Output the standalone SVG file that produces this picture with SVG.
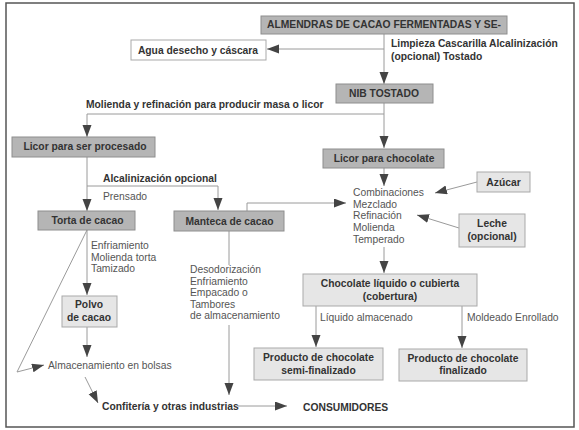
<svg xmlns="http://www.w3.org/2000/svg" width="579" height="430" viewBox="0 0 579 430">
<style>
  .dark{fill:#b5b5b5;stroke:#8e8e8e;stroke-width:1}
  .light{fill:#e6e6e6;stroke:#a9a9a9;stroke-width:1}
  .white{fill:#ffffff;stroke:#a9a9a9;stroke-width:1}
  text{font-family:"Liberation Sans",Arial,sans-serif;font-size:10.3px}
  .b{font-weight:bold;fill:#333333}
  .r{fill:#555555}
  .c{text-anchor:middle}
  .conn path{fill:none;stroke:#9a9a9a;stroke-width:1;marker-end:url(#ah)}
  .conn path.nm{marker-end:none}
</style>
<defs>
  <marker id="ah" markerUnits="userSpaceOnUse" markerWidth="13" markerHeight="10" refX="12" refY="4.5" orient="auto">
    <path d="M0,0 L12,4.5 L0,9 z" fill="#444444"/>
  </marker>
</defs>
<rect x="6" y="3" width="568" height="424" fill="#ffffff" stroke="#555555" stroke-width="1.5"/>

<g class="conn">
  <path d="M384,34 V84"/>
  <path d="M384,49 H267"/>
  <path d="M384,103 V114 H87 V137"/>
  <path d="M384,114 V148"/>
  <path d="M87,157 V211"/>
  <path d="M87,186 H218 V210"/>
  <path d="M384,168 V186"/>
  <path d="M247,211 V203 H346"/>
  <path d="M477,182 L435,193"/>
  <path d="M459,228 L417,215"/>
  <path d="M384,247 V273"/>
  <path d="M316,306 V347"/>
  <path d="M462,306 V348"/>
  <path d="M87,230 V295"/>
  <path d="M87,327 V357"/>
  <path d="M87,230 L17,372 L44,365"/>
  <path d="M85,377 L98,403"/>
  <path class="nm" d="M229,231 V265"/>
  <path d="M229,325 V395"/>
  <path d="M238,406 H287"/>
</g>

<g id="almendras">
  <rect class="dark" x="261" y="16" width="246" height="18"/>
  <text class="b c" x="384" y="28" font-size="10.1">ALMENDRAS DE CACAO FERMENTADAS Y SE-</text>
</g>
<g id="agua">
  <rect class="white" x="131" y="40" width="135" height="20"/>
  <text class="b c" x="198" y="53.5">Agua desecho y cáscara</text>
</g>
<g id="lbl-limpieza">
  <text class="b" x="391" y="47">Limpieza Cascarilla Alcalinización</text>
  <text class="b" x="391" y="60">(opcional) Tostado</text>
</g>
<g id="nib">
  <rect class="dark" x="336" y="84" width="97" height="19"/>
  <text class="b c" x="384" y="97">NIB TOSTADO</text>
</g>
<g id="lbl-molienda">
  <text class="b" x="86" y="108">Molienda y refinación para producir masa o licor</text>
</g>
<g id="licor-procesado">
  <rect class="dark" x="12" y="137" width="143" height="20"/>
  <text class="b c" x="85" y="150">Licor para ser procesado</text>
</g>
<g id="licor-chocolate">
  <rect class="dark" x="323" y="149" width="121" height="19"/>
  <text class="b c" x="384" y="162">Licor para chocolate</text>
</g>
<g id="lbl-alcalinizacion">
  <text class="b" x="103" y="182">Alcalinización opcional</text>
  <text class="r" x="103" y="200">Prensado</text>
</g>
<g id="torta">
  <rect class="dark" x="38" y="211" width="97" height="19"/>
  <text class="b c" x="87.5" y="224">Torta de cacao</text>
</g>
<g id="manteca">
  <rect class="dark" x="174" y="211" width="110" height="20"/>
  <text class="b c" x="229.5" y="224.5">Manteca de cacao</text>
</g>
<g id="combinaciones">
  <text class="r" x="353" y="196">Combinaciones</text>
  <text class="r" x="353" y="207.5">Mezclado</text>
  <text class="r" x="353" y="219">Refinación</text>
  <text class="r" x="353" y="230.5">Molienda</text>
  <text class="r" x="353" y="242.5">Temperado</text>
</g>
<g id="azucar">
  <rect class="light" x="477" y="172" width="53" height="20"/>
  <text class="b c" x="503.5" y="185.5">Azúcar</text>
</g>
<g id="leche">
  <rect class="light" x="459" y="214" width="66" height="33"/>
  <text class="b c" x="492" y="227">Leche</text>
  <text class="b c" x="492" y="240">(opcional)</text>
</g>
<g id="lbl-enfriamiento">
  <text class="r" x="91" y="249">Enfriamiento</text>
  <text class="r" x="91" y="260.5">Molienda torta</text>
  <text class="r" x="91" y="272">Tamizado</text>
</g>
<g id="desodorizacion">
  <text class="r" x="190" y="273">Desodorización</text>
  <text class="r" x="190" y="284.5">Enfriamiento</text>
  <text class="r" x="190" y="296">Empacado o</text>
  <text class="r" x="190" y="307.5">Tambores</text>
  <text class="r" x="190" y="319">de almacenamiento</text>
</g>
<g id="chocolate-liquido">
  <rect class="light" x="303" y="274" width="174" height="32"/>
  <text class="b c" x="390" y="287">Chocolate líquido o cubierta</text>
  <text class="b c" x="390" y="300">(cobertura)</text>
</g>
<g id="polvo">
  <rect class="light" x="62" y="296" width="55" height="31"/>
  <text class="b c" x="89" y="308">Polvo</text>
  <text class="b c" x="89" y="321">de cacao</text>
</g>
<g id="lbl-liquido">
  <text class="r" x="320" y="321">Líquido almacenado</text>
</g>
<g id="lbl-moldeado">
  <text class="r" x="467" y="321">Moldeado Enrollado</text>
</g>
<g id="semi">
  <rect class="light" x="254" y="348" width="129" height="32"/>
  <text class="b c" x="318.5" y="361">Producto de chocolate</text>
  <text class="b c" x="318.5" y="373.5">semi-finalizado</text>
</g>
<g id="finalizado">
  <rect class="light" x="399" y="349" width="128" height="32"/>
  <text class="b c" x="463" y="361.5">Producto de chocolate</text>
  <text class="b c" x="463" y="374">finalizado</text>
</g>
<g id="almacenamiento">
  <text class="r" x="48" y="368.5">Almacenamiento en bolsas</text>
</g>
<g id="confiteria">
  <text class="b" x="102" y="410">Confitería y otras industrias</text>
</g>
<g id="consumidores">
  <text class="b" x="303" y="411">CONSUMIDORES</text>
</g>
</svg>
